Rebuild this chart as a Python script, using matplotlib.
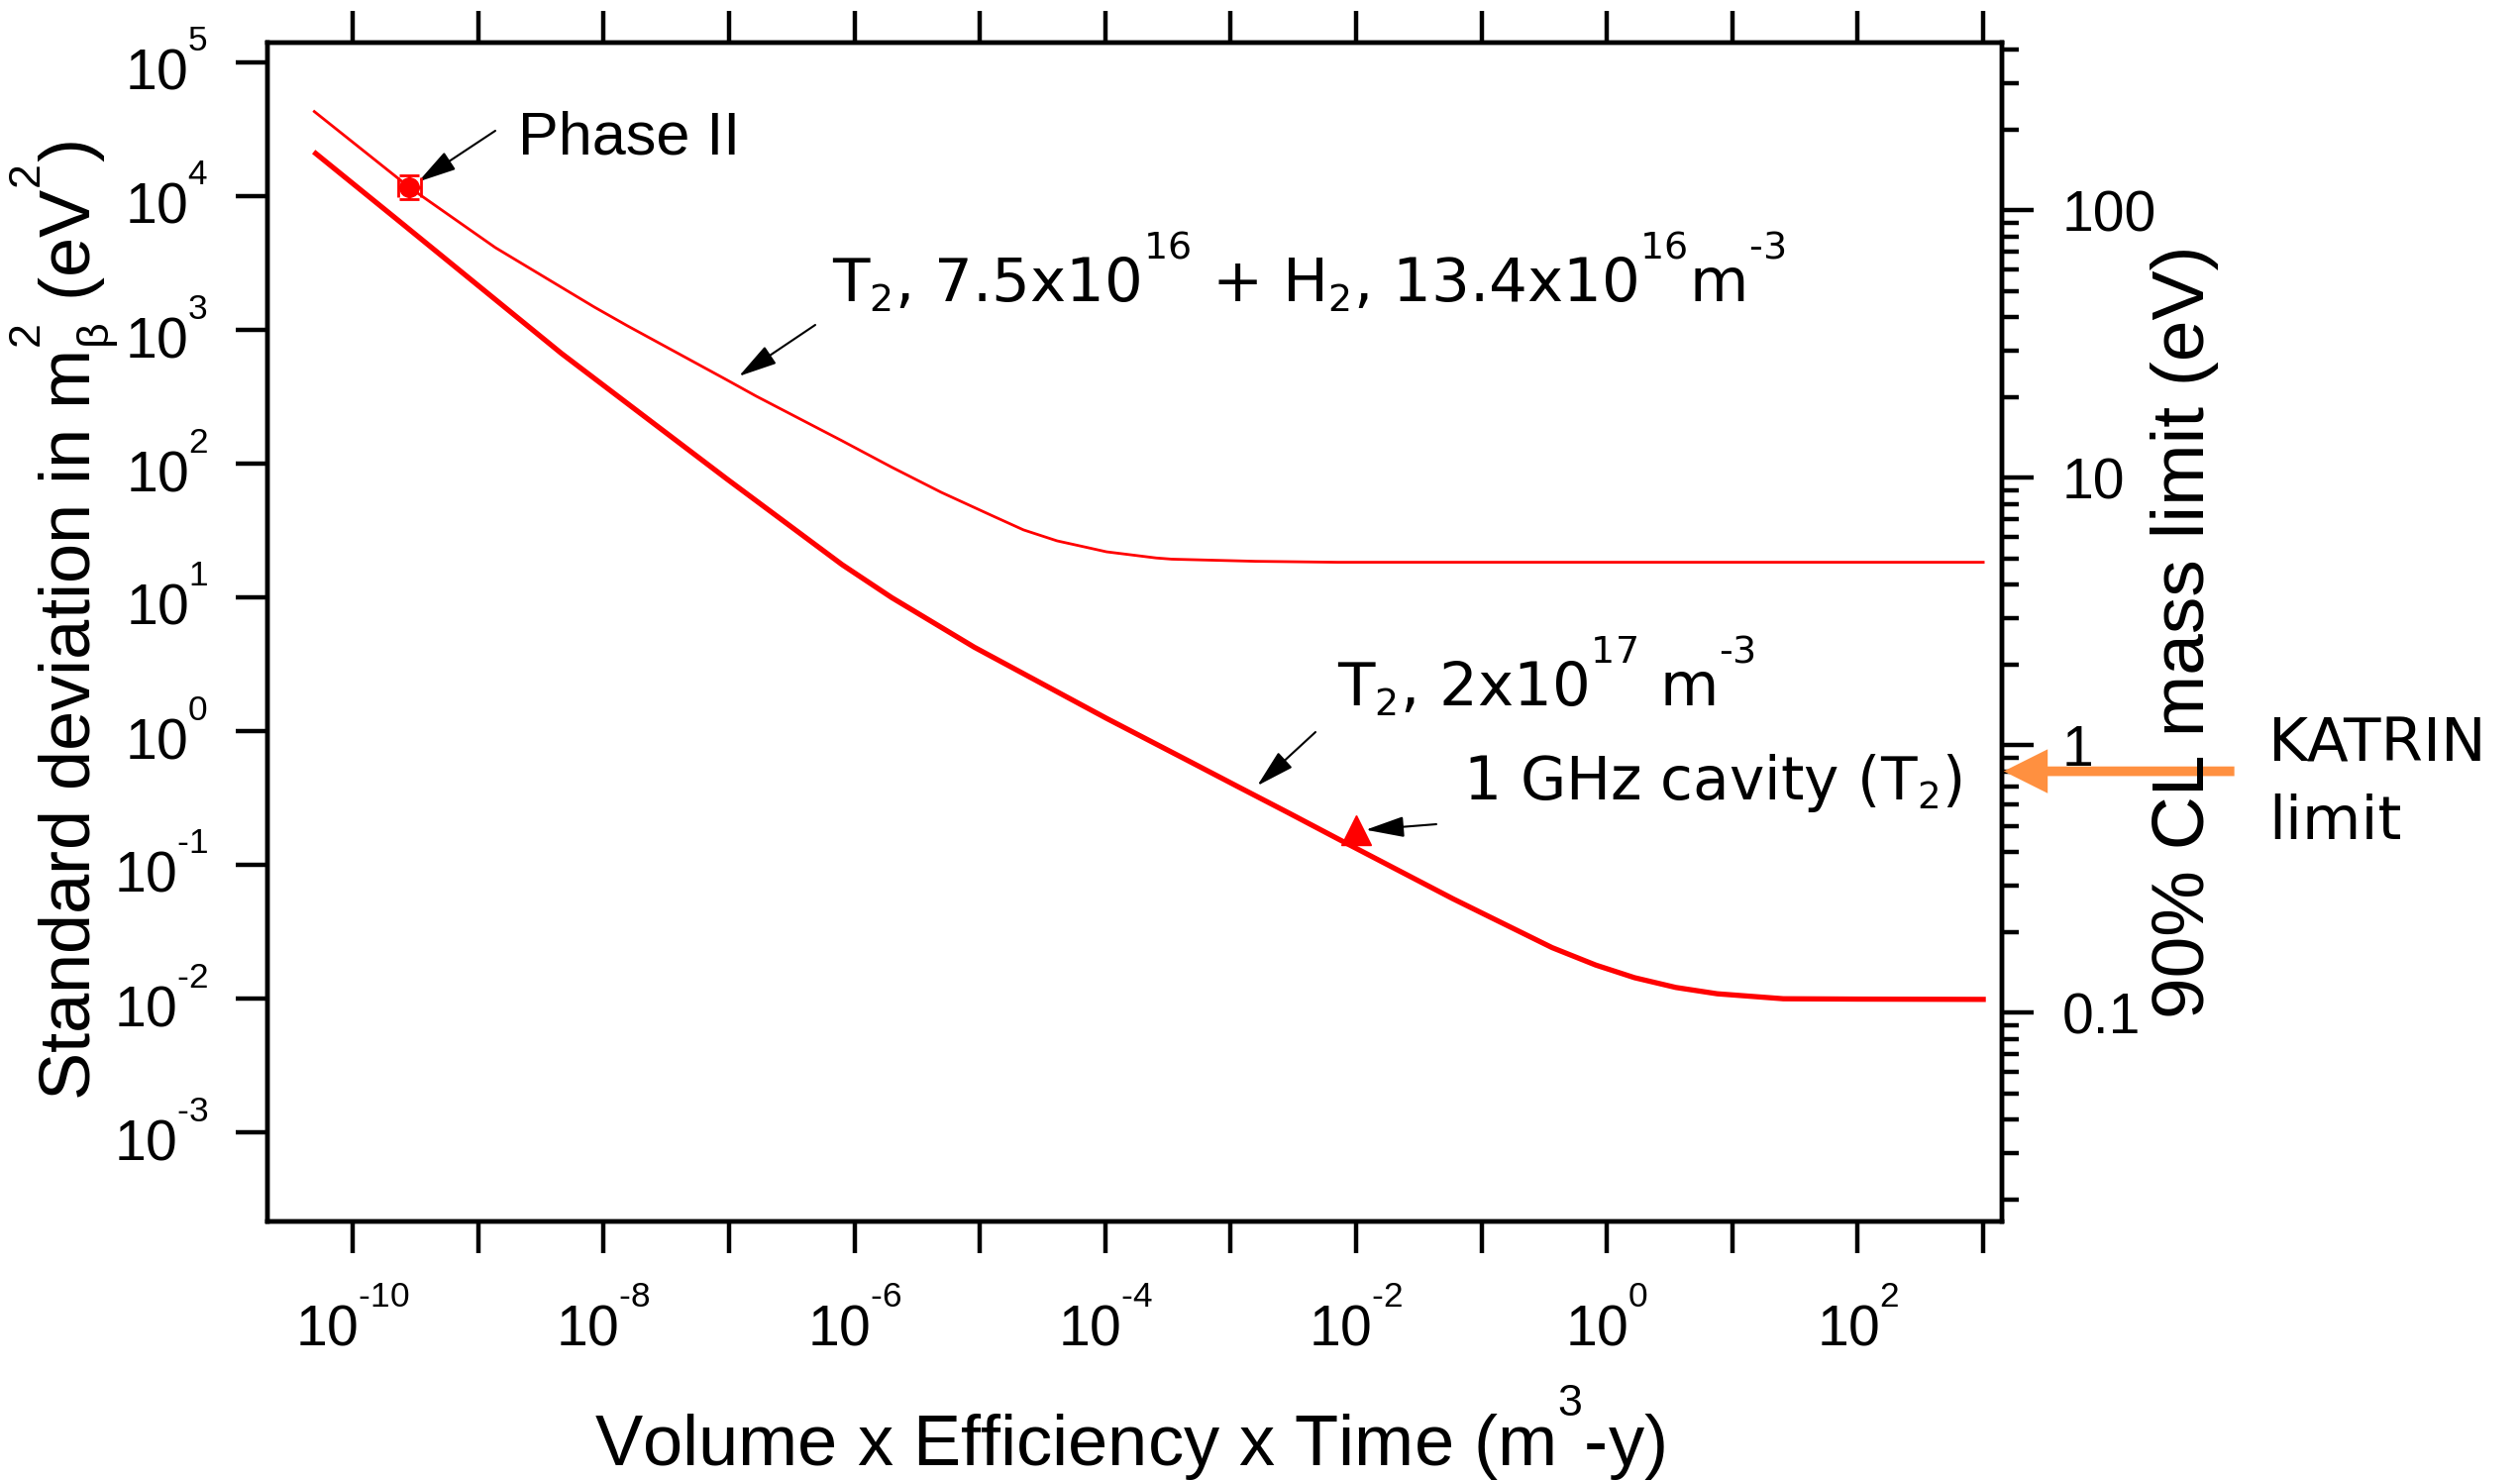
import matplotlib
matplotlib.use("Agg")
import matplotlib.pyplot as plt
from matplotlib.ticker import LogLocator, NullLocator, FixedLocator, FixedFormatter, NullFormatter

plt.rcParams['font.family'] = ['Liberation Sans', 'DejaVu Sans']
plt.rcParams['mathtext.fontset'] = 'custom'
plt.rcParams['mathtext.rm'] = 'Liberation Sans'
plt.rcParams['mathtext.it'] = 'Liberation Sans:italic'
plt.rcParams['mathtext.bf'] = 'Liberation Sans:bold'
plt.rcParams['mathtext.default'] = 'rm'

# high, small exponents and indices
try:
    import matplotlib._mathtext as _mt
    _mt.FontConstantsBase.sup1 = 1.3
    _mt.SHRINK_FACTOR = 0.62
except Exception:
    pass

# ---- sensitivity curves: exposure (m^3-y) vs sigma(m_beta^2) in eV^2 ----
# T2 7.5e16 + H2 13.4e16 m^-3 mixture
exposure_mix = [4.94e-11, 2.84e-10, 1.371e-9, 8.45e-9, 1.549e-8, 9.55e-8, 1.648e-7,
                7.98e-7, 1.982e-6, 4.92e-6, 1.222e-5, 2.228e-5, 4.13e-5, 7.53e-5,
                1.023e-4, 2.547e-4, 3.39e-4, 1.585e-3, 7.08e-3, 1e-1, 1e1, 1e3]
sigma_mix = [42900, 11600, 4121, 1479, 1072, 423.6, 319.2,
             147.9, 93.97, 60.95, 41.21, 31.92, 26.42, 23.33,
             21.88, 19.68, 19.28, 18.58, 18.28, 18.28, 18.28, 18.28]

# pure T2 at 2e17 m^-3
exposure_t2 = [5.07e-11, 2.228e-10, 4.61e-9, 9.55e-8, 7.98e-7, 1.982e-6, 9.02e-6,
               1.021e-4, 4.645e-4, 1.153e-3, 2.864e-3, 7.11e-3, 5.93e-2, 0.3656,
               0.8128, 1.663, 3.548, 7.568, 25.47, 100, 1000]
sigma_t2 = [20840, 6761, 666.8, 77.1, 17.54, 9.95, 4.236,
            1.245, 0.5957, 0.3819, 0.2455, 0.1567, 0.05559, 0.02399,
            0.01778, 0.01429, 0.01208, 0.01084, 0.00995, 0.00989, 0.00984]

# measured / projected points
phase2_exposure = 2.84e-10
phase2_sigma = 1.16e4
phase2_xerr = [[0.55e-10], [0.68e-10]]
phase2_yerr = [[2.1e3], [2.6e3]]

cavity_exposure = 1e-2
cavity_sigma = 0.18

katrin_limit_ev = 0.8
cl90_factor = 1.28          # m^2 limit (90% CL) = 1.28 * sigma

# ---- axes ticks ----
sigma_ticks = [1e-3, 1e-2, 1e-1, 1e0, 1e1, 1e2, 1e3, 1e4, 1e5]
sigma_tick_labels = ['$10^{‐3}$', '$10^{‐2}$', '$10^{‐1}$', '$10^{0}$', '$10^{1}$',
                     '$10^{2}$', '$10^{3}$', '$10^{4}$', '$10^{5}$']
exposure_ticks = [10.0 ** k for k in range(-10, 4)]
exposure_tick_labels = ['$10^{‐10}$', '', '$10^{‐8}$', '', '$10^{‐6}$', '', '$10^{‐4}$', '',
                        '$10^{‐2}$', '', '$10^{0}$', '', '$10^{2}$', '']
mass_ticks = [0.1, 1, 10, 100]
mass_tick_labels = ['0.1', '1', '10', '100']

x_limits = (2.09e-11, 1.41e3)
y_limits = (2.15e-4, 1.406e5)

W, H = 2544, 1494


def fxy(px, py):
    """pixel position (from top-left) -> figure fraction"""
    return (px / W, 1 - py / H)


fig = plt.figure(figsize=(W / 100, H / 100), dpi=100)
ax = fig.add_axes([270 / W, 1 - 1233 / H, 1751 / W, 1190 / H])
ax.set_xscale('log')
ax.set_yscale('log')
ax.set_xlim(*x_limits)
ax.set_ylim(*y_limits)

red = '#ff0000'
ax.plot(exposure_mix, sigma_mix, color=red, lw=2.0, solid_joinstyle='round')
ax.plot(exposure_t2, sigma_t2, color=red, lw=3.8, solid_joinstyle='round')

ax.errorbar([phase2_exposure], [phase2_sigma], xerr=phase2_xerr, yerr=phase2_yerr,
            fmt='o', color=red, ms=14, elinewidth=2, capsize=7, capthick=2, zorder=5)
ax.plot([cavity_exposure], [cavity_sigma], marker='^', color=red, ms=21, ls='none', zorder=5)

spine_w = 3.2
for s in ax.spines.values():
    s.set_linewidth(spine_w)

ax.xaxis.set_major_locator(FixedLocator(exposure_ticks))
ax.xaxis.set_major_formatter(FixedFormatter(exposure_tick_labels))
ax.xaxis.set_minor_locator(NullLocator())
ax.yaxis.set_major_locator(FixedLocator(sigma_ticks))
ax.yaxis.set_major_formatter(FixedFormatter(sigma_tick_labels))
ax.yaxis.set_minor_locator(NullLocator())
ax.tick_params(axis='x', which='major', direction='out', length=23, width=spine_w,
               labelsize=41, pad=27, top=True, bottom=True)
ax.tick_params(axis='y', which='major', direction='out', length=23, width=spine_w,
               labelsize=41, pad=20, left=True, right=False)

# right-hand axis: 90% CL mass limit
ax2 = ax.twinx()
ax2.set_yscale('log')
ax2.set_ylim((cl90_factor * y_limits[0]) ** 0.5, (cl90_factor * y_limits[1]) ** 0.5)
ax2.yaxis.set_major_locator(FixedLocator(mass_ticks))
ax2.yaxis.set_major_formatter(FixedFormatter(mass_tick_labels))
ax2.yaxis.set_minor_locator(LogLocator(base=10, subs=range(2, 10), numticks=20))
ax2.yaxis.set_minor_formatter(NullFormatter())
ax2.tick_params(axis='y', which='major', direction='out', length=23, width=spine_w,
                labelsize=41, pad=21)
ax2.tick_params(axis='y', which='minor', direction='out', length=12, width=spine_w)
for s in ax2.spines.values():
    s.set_linewidth(spine_w)

# axis titles
fig.text(*fxy(65, 627), 'Standard deviation in m$_{β}^{2}$ (eV$^{2}$)', rotation=90,
         ha='center', va='center', fontsize=52)
fig.text(*fxy(2205, 638), '90% CL mass limit (eV)', rotation=90,
         ha='center', va='center', fontsize=54)
fig.text(*fxy(1140, 1480), 'Volume x Efficiency x Time (m$^{3}$-y)',
         ha='center', va='baseline', fontsize=52)

# curve / point labels
dv = dict(family='DejaVu Sans', math_fontfamily='dejavusans', ha='left', va='baseline')
fig.text(*fxy(523, 155), 'Phase II', ha='left', va='baseline', fontsize=44)
fig.text(*fxy(840, 305), 'T$_{2}$, 7.5x10$^{16}$ + H$_{2}$, 13.4x10$^{16}$m$^{‐3}$',
         fontsize=44, **dv)
fig.text(*fxy(1350, 713), 'T$_{2}$, 2x10$^{17}$ m$^{‐3}$', fontsize=44, **dv)
fig.text(*fxy(1477, 807), '1 GHz cavity (T$_{2}$)', fontsize=43, **dv)
fig.text(*fxy(2290, 769), 'KATRIN', fontsize=44, **dv)
fig.text(*fxy(2290, 847), 'limit', fontsize=44, **dv)

arrow_kw = dict(arrowstyle='-|>,head_length=24,head_width=6.5', mutation_scale=1,
                lw=1.5, color='black', shrinkA=0)
ax.annotate('', xy=(phase2_exposure, phase2_sigma), xycoords='data',
            xytext=fxy(500, 132), textcoords='figure fraction',
            arrowprops=dict(arrow_kw, shrinkB=7.5))
ax.annotate('', xy=(1.2e-7, 450), xycoords='data',
            xytext=fxy(823, 328), textcoords='figure fraction',
            arrowprops=dict(arrow_kw, shrinkB=0))
ax.annotate('', xy=(1.63e-3, 0.39), xycoords='data',
            xytext=fxy(1328, 739), textcoords='figure fraction',
            arrowprops=dict(arrow_kw, shrinkB=0))
ax.annotate('', xy=(cavity_exposure, cavity_sigma), xycoords='data',
            xytext=fxy(1450, 832), textcoords='figure fraction',
            arrowprops=dict(arrow_kw, shrinkB=7))

# KATRIN limit arrow on the mass axis
ax2.annotate('', xy=(1.001, katrin_limit_ev), xycoords=('axes fraction', 'data'),
             xytext=(1.134, katrin_limit_ev), textcoords=('axes fraction', 'data'),
             arrowprops=dict(arrowstyle='simple,head_length=32,head_width=32,tail_width=7',
                             mutation_scale=1, color='#ff9040', lw=0, shrinkA=0, shrinkB=0),
             annotation_clip=False)

fig.savefig('out.png', dpi=100)
